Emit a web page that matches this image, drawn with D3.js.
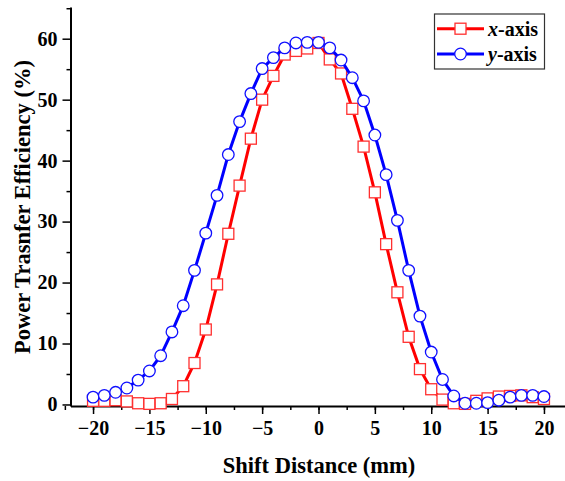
<!DOCTYPE html>
<html>
<head>
<meta charset="utf-8">
<script src="https://cdn.jsdelivr.net/npm/d3@7"></script>
<style>
  body { margin: 0; background: #fff; }
  svg text { font-family: "Liberation Serif", "Times New Roman", serif; font-weight: bold; }
</style>
</head>
<body>
<div id="chart"></div>
<script>
var w = 565
var h = 481

// shift distance (mm)
var shift = [-20, -19, -18, -17, -16, -15, -14, -13, -12, -11, -10, -9, -8, -7, -6, -5, -4, -3, -2, -1,
             0, 1, 2, 3, 4, 5, 6, 7, 8, 9, 10, 11, 12, 13, 14, 15, 16, 17, 18, 19, 20];

// efficiency (%) along x-axis
var xAxisEff = [0.6, 0.6, 0.7, 0.5, 0.2, 0.1, 0.2, 0.9, 3.0, 6.8, 12.3, 19.7, 28.0, 35.9, 43.6, 50.0, 53.9, 57.4, 58.0, 58.4,
                59.3, 56.6, 54.3, 48.5, 42.3, 34.8, 26.3, 18.4, 11.1, 5.8, 2.5, 0.8, 0.2, 0.1, 0.6, 1.0, 1.3, 1.4, 1.5, 1.2, 0.9];

// efficiency (%) along y-axis
var yAxisEff = [1.2, 1.5, 2.0, 2.7, 4.0, 5.5, 8.0, 11.9, 16.2, 22.0, 28.1, 34.3, 41.0, 46.4, 51.0, 55.1, 56.9, 58.5, 59.3, 59.4,
                59.4, 58.5, 56.5, 53.6, 49.8, 44.2, 37.7, 30.2, 22.0, 14.5, 8.6, 4.1, 1.4, 0.2, 0.2, 0.3, 0.7, 1.2, 1.5, 1.5, 1.3];

var xTicks = [-20, -15, -10, -5, 0, 5, 10, 15, 20];
var yTicks = [0, 10, 20, 30, 40, 50, 60];

var x = d3.scaleLinear().domain([-22, 22]).range([70.5, 566.5]);
var y = d3.scaleLinear().domain([-0.25, 65.2]).range([406, 7]);

var svg = d3.select("#chart").append("svg")
    .attr("width", w)
    .attr("height", h)
    .attr("font-family", "'Liberation Serif', 'Times New Roman', serif");

// minor ticks
svg.append("g")
    .attr("transform", "translate(0,406)")
    .call(d3.axisBottom(x).tickValues(d3.range(-22.5, 23, 2.5)).tickSize(4).tickFormat(""))
    .call(function(g) { g.select(".domain").remove(); });
svg.append("g")
    .attr("transform", "translate(70.5,0)")
    .call(d3.axisLeft(y).tickValues([5, 15, 25, 35, 45, 55, 65]).tickSize(4).tickFormat(""))
    .call(function(g) { g.select(".domain").remove(); });

// major axes
svg.append("g")
    .attr("transform", "translate(0,406)")
    .call(d3.axisBottom(x).tickValues(xTicks).tickSize(8).tickPadding(7).tickSizeOuter(0));
svg.append("g")
    .attr("transform", "translate(70.5,0)")
    .call(d3.axisLeft(y).tickValues(yTicks).tickSize(8).tickPadding(5).tickSizeOuter(0));

svg.selectAll("g").attr("font-family", null).attr("font-size", null);
svg.selectAll(".domain").attr("stroke", "#000").attr("stroke-width", 2);
svg.selectAll(".tick line").attr("stroke", "#000").attr("stroke-width", 1.5);
svg.selectAll(".tick text")
    .style("font-size", "20px")
    .attr("fill", "#000");

// axis titles
svg.append("text")
    .attr("x", 319)
    .attr("y", 473)
    .attr("text-anchor", "middle")
    .style("font-size", "22.5px")
    .text("Shift Distance (mm)");

svg.append("text")
    .attr("transform", "translate(30,207) rotate(-90)")
    .attr("text-anchor", "middle")
    .style("font-size", "22.5px")
    .text("Power Trasnfer Efficiency (%)");

var line = d3.line()
    .x(function(d, i) { return x(shift[i]); })
    .y(function(d) { return y(d); });

// red series, squares
svg.append("path")
    .datum(xAxisEff)
    .attr("fill", "none")
    .attr("stroke", "#ff0000")
    .attr("stroke-width", 3)
    .attr("d", line);

svg.selectAll("rect.sq").data(xAxisEff).enter()
  .append("rect")
    .attr("class", "sq")
    .attr("x", function(d, i) { return x(shift[i]) - 5.5; })
    .attr("y", function(d) { return y(d) - 5.5; })
    .attr("width", 11)
    .attr("height", 11)
    .attr("fill", "#fff")
    .attr("stroke", "#ff3030")
    .attr("stroke-width", 1.3);

// blue series, circles
svg.append("path")
    .datum(yAxisEff)
    .attr("fill", "none")
    .attr("stroke", "#0000ff")
    .attr("stroke-width", 3)
    .attr("d", line);

svg.selectAll("circle.ci").data(yAxisEff).enter()
  .append("circle")
    .attr("class", "ci")
    .attr("cx", function(d, i) { return x(shift[i]); })
    .attr("cy", function(d) { return y(d); })
    .attr("r", 5.8)
    .attr("fill", "#fff")
    .attr("stroke", "#1010ff")
    .attr("stroke-width", 1.3);

// legend
var legend = svg.append("g");
legend.append("rect")
    .attr("x", 434.5)
    .attr("y", 14)
    .attr("width", 110)
    .attr("height", 55)
    .attr("fill", "#fff")
    .attr("stroke", "#333")
    .attr("stroke-width", 1.2);

var legItems = [
  { name: "x", color: "#ff0000", ly: 28.7 },
  { name: "y", color: "#0000ff", ly: 54 }
];

legItems.forEach(function(it, i) {
  legend.append("line")
      .attr("x1", 437).attr("x2", 484)
      .attr("y1", it.ly).attr("y2", it.ly)
      .attr("stroke", it.color)
      .attr("stroke-width", 3);
  if (i == 0) {
    legend.append("rect")
        .attr("x", 460.5 - 5.5).attr("y", it.ly - 5.5)
        .attr("width", 11).attr("height", 11)
        .attr("fill", "#fff").attr("stroke", "#ff3030").attr("stroke-width", 1.3);
  } else {
    legend.append("circle")
        .attr("cx", 460.5).attr("cy", it.ly).attr("r", 5.8)
        .attr("fill", "#fff").attr("stroke", "#1010ff").attr("stroke-width", 1.3);
  }
  var t = legend.append("text")
      .attr("x", 488)
      .attr("y", it.ly + 7)
      .style("font-size", "20px");
  t.append("tspan").style("font-style", "italic").text(it.name);
  t.append("tspan").text("-axis");
});
</script>
</body>
</html>
